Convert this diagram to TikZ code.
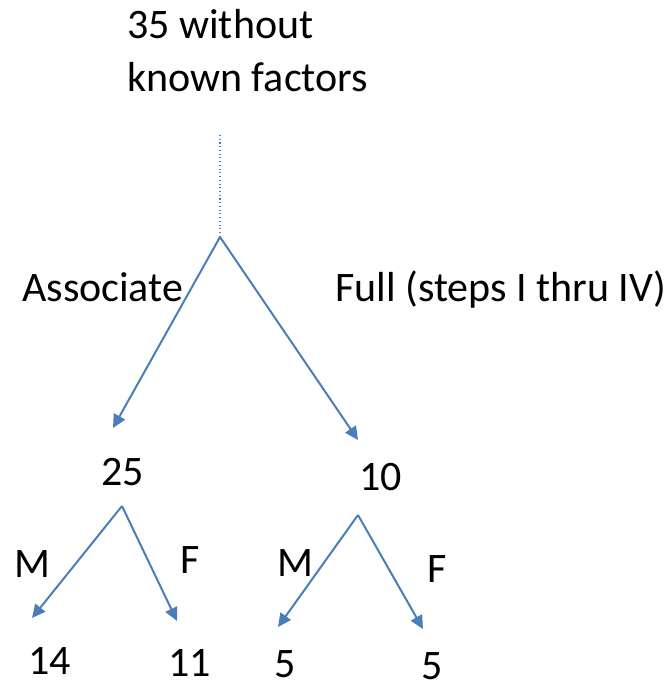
\documentclass[tikz,border=0pt]{standalone}
\usepackage{fontspec}
\setmainfont{Carlito}
\usetikzlibrary{arrows.meta}
\definecolor{branchblue}{HTML}{4A7EBB}
\begin{document}
\begin{tikzpicture}[x=0.75pt,y=-0.75pt,
        lbl/.style={anchor=base west,inner sep=0pt,font=\fontsize{31.5}{40}\selectfont},
        branch/.style={-{Triangle[length=10pt,width=9.5pt]},branchblue,line width=1.5pt}]
        \useasboundingbox (0,0) rectangle (671,688);
        % Texts
        \node[lbl] (top1) at (127,39) {35 without};
        \node[lbl] (top2) at (127,92) {known factors};
        \node[lbl] (assoc) at (22,301) {Associate};
        \node[lbl] (full) at (335,301) {Full (steps I thru IV)};
        \node[lbl] (n25) at (101,485) {25};
        \node[lbl] (n10) at (359,490) {10};
        \node[lbl] (mL) at (14,577) {M};
        \node[lbl] (fL) at (180,573) {F};
        \node[lbl] (mR) at (277,576) {M};
        \node[lbl] (fR) at (427,582) {F};
        \node[lbl] (n14) at (28,674) {14};
        \node[lbl] (n11) at (168,676) {11};
        \node[lbl] (n5a) at (274,677) {5};
        \node[lbl] (n5b) at (421,679) {5};
        % Branch points and arrow tips
        \coordinate (S) at (220,135);
        \coordinate (A) at (220,237);
        \coordinate (tA) at (113,428);
        \coordinate (tF) at (358,440);
        \coordinate (B) at (122,506);
        \coordinate (tBM) at (32,618);
        \coordinate (tBF) at (177,621);
        \coordinate (C) at (358,515);
        \coordinate (tCM) at (278,627);
        \coordinate (tCF) at (423,629);
        \draw[branchblue,line width=0.8pt,dotted] (S) -- (A);
        \draw[branch] (A) -- (tA);
        \draw[branch] (A) -- (tF);
        \draw[branch] (B) -- (tBM);
        \draw[branch] (B) -- (tBF);
        \draw[branch] (C) -- (tCM);
        \draw[branch] (C) -- (tCF);
    \end{tikzpicture}
\end{document}
